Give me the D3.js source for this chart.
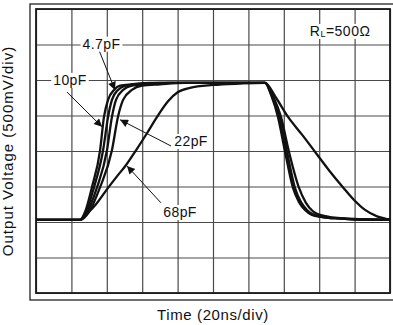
<!DOCTYPE html>
<html>
<head>
<meta charset="utf-8">
<script src="https://cdn.jsdelivr.net/npm/d3@7"></script>
<style>
  body { margin: 0; background: #fff; }
  svg { display: block; font-family: "Liberation Sans", Arial, sans-serif; }
</style>
</head>
<body>
<svg id="chart" width="393" height="325"></svg>
<script>
// time in ns (20ns/div), output in V (500mV/div)
const timeTicks = d3.range(0, 201, 20);
const voltTicks = d3.range(-1, 3.01, 0.5);
const lowLevel = 0.03;

const loads = ['0pF', '4.7pF', '10pF', '22pF', '68pF'];

const riseA = [[24.9, 0.03], [27.7, 0.14], [31.6, 0.49], [36.2, 1.01], [38.4, 1.48], [40.7, 1.72], [44.1, 1.86], [47.5, 1.92], [54.2, 1.94], [64.4, 1.96]];
const riseB = [[24.9, 0.03], [28.2, 0.14], [32.8, 0.49], [37.9, 1.01], [40.7, 1.48], [42.9, 1.72], [46.3, 1.86], [50.8, 1.92], [58.8, 1.94], [70.1, 1.96]];
const riseC = [[24.9, 0.03], [28.8, 0.14], [34.5, 0.49], [40.1, 1.01], [42.9, 1.48], [45.2, 1.72], [49.2, 1.86], [54.2, 1.92], [63.3, 1.94], [75.7, 1.96]];
const riseD = [[24.9, 0.03], [29.9, 0.14], [36.2, 0.49], [42.9, 1.01], [46.3, 1.48], [49.2, 1.72], [54.2, 1.86], [59.9, 1.92], [70.1, 1.94], [84.2, 1.96]];
const riseE = [[24.9, 0.03], [29.4, 0.13], [33.9, 0.25], [40.7, 0.48], [46.3, 0.66], [50.8, 0.80], [56.5, 1.01], [62.7, 1.25], [68.4, 1.48], [74.6, 1.70], [80.2, 1.83], [87.0, 1.89], [100, 1.93], [115.3, 1.95]];

const fallA = [[129.4, 1.96], [132.8, 1.79], [136.7, 1.48], [140.7, 0.99], [145.2, 0.48], [148.6, 0.28], [152.0, 0.17], [155.9, 0.10], [161.6, 0.07], [171.8, 0.05], [183.1, 0.035], [200, 0.03]];
const fallB = [[129.4, 1.96], [133.1, 1.79], [137.3, 1.48], [141.2, 0.99], [145.8, 0.48], [149.2, 0.28], [152.5, 0.17], [156.5, 0.10], [162.1, 0.07], [171.8, 0.05], [183.1, 0.035], [200, 0.03]];
const fallC = [[129.4, 1.96], [133.3, 1.79], [137.9, 1.48], [141.8, 0.99], [146.3, 0.48], [149.7, 0.28], [153.1, 0.17], [157.1, 0.10], [162.7, 0.07], [171.8, 0.05], [183.1, 0.035], [200, 0.03]];
const fallD = [[129.4, 1.96], [133.9, 1.77], [138.4, 1.48], [142.9, 0.99], [148.6, 0.48], [152.5, 0.27], [156.5, 0.15], [160.5, 0.10], [166.1, 0.07], [183.1, 0.04], [200, 0.03]];
const fallE = [[129.4, 1.96], [135.6, 1.75], [142.4, 1.48], [150.3, 1.23], [157.6, 0.99], [165.5, 0.73], [173.4, 0.49], [179.7, 0.31], [185.9, 0.17], [192.7, 0.08], [200, 0.035]];

const rises = [riseA, riseB, riseC, riseD, riseE];
const falls = [fallA, fallB, fallC, fallD, fallE];

// labels: text anchor point and arrow [from, tip], in data units
const notes = [
  {text: '4.7pF', at: [37.0, 2.51], from: [35.6, 2.42], tip: [44.6, 1.86]},
  {text: '10pF', at: [19.2, 2.0], from: [17.5, 1.83], tip: [37.3, 1.34]},
  {text: '22pF', at: [87.6, 1.14], from: [76.3, 1.07], tip: [47.5, 1.44]},
  {text: '68pF', at: [81.4, 0.14], from: [70.6, 0.27], tip: [51.4, 0.79]},
];

const margin = {left: 36, top: 9, right: 3, bottom: 32};
const width = 393 - margin.left - margin.right;
const height = 325 - margin.top - margin.bottom;

const svg = d3.select('#chart');
const x = d3.scaleLinear().domain([0, 200]).range([0, width]);
const y = d3.scaleLinear().domain([-1, 3]).range([height, 0]);

// outer frame (runs off the right edge)
svg.append('rect')
  .attr('x', 30).attr('y', 4).attr('width', 400).attr('height', 296)
  .attr('fill', 'none').attr('stroke', '#222').attr('stroke-width', 1.3);

const g = svg.append('g').attr('transform', `translate(${margin.left},${margin.top})`);

/* GRID */
const gridX = g.append('g')
  .call(d3.axisBottom(x).tickValues(timeTicks).tickSize(height).tickFormat(''));
const gridY = g.append('g')
  .call(d3.axisLeft(y).tickValues(voltTicks).tickSize(-width).tickFormat(''));
[gridX, gridY].forEach(a => {
  a.select('.domain').remove();
  a.selectAll('line').attr('stroke', '#4a4a4a').attr('stroke-width', 1.2);
});
g.append('rect').attr('width', width).attr('height', height)
  .attr('fill', 'none').attr('stroke', '#1a1a1a').attr('stroke-width', 1.8);

/* CURVES */
const line = d3.line().x(d => x(d[0])).y(d => y(d[1])).curve(d3.curveMonotoneX);
const series = loads.map((name, i) => ({
  name,
  points: [[0, lowLevel], ...rises[i], ...falls[i]],
}));
g.selectAll('path.trace').data(series).enter().append('path')
  .attr('class', 'trace')
  .attr('d', d => line(d.points))
  .attr('fill', 'none').attr('stroke', '#111').attr('stroke-width', 2.3)
  .attr('stroke-linejoin', 'round');

/* LABELS */
svg.append('defs').append('marker')
  .attr('id', 'head').attr('viewBox', '0 0 10 10')
  .attr('refX', 10).attr('refY', 5)
  .attr('markerWidth', 10).attr('markerHeight', 8)
  .attr('markerUnits', 'userSpaceOnUse').attr('orient', 'auto')
  .append('path').attr('d', 'M0,0L10,5L0,10Z').attr('fill', '#111');

const noteG = g.selectAll('g.note').data(notes).enter().append('g').attr('class', 'note');
noteG.append('line')
  .attr('x1', d => x(d.from[0])).attr('y1', d => y(d.from[1]))
  .attr('x2', d => x(d.tip[0])).attr('y2', d => y(d.tip[1]))
  .attr('stroke', '#111').attr('stroke-width', 1).attr('marker-end', 'url(#head)');
const noteBg = noteG.append('rect').attr('fill', '#fff');
const noteText = noteG.append('text')
  .attr('x', d => x(d.at[0])).attr('y', d => y(d.at[1]))
  .attr('dy', '0.35em').attr('text-anchor', 'middle')
  .style('font-size', '14px').style('letter-spacing', '0.4px').attr('fill', '#111')
  .text(d => d.text);
noteText.each(function (d, i) {
  const b = this.getBBox();
  d3.select(noteBg.nodes()[i])
    .attr('x', b.x - 2).attr('y', b.y + 1).attr('width', b.width + 4).attr('height', b.height - 1);
});

// load resistor label
const rl = g.append('g');
const rlBg = rl.append('rect').attr('fill', '#fff');
const rlText = rl.append('text')
  .attr('x', x(171.8)).attr('y', y(2.69)).attr('dy', '0.35em')
  .attr('text-anchor', 'middle').style('font-size', '14px').style('letter-spacing', '0.5px')
  .attr('fill', '#111');
rlText.append('tspan').text('R');
rlText.append('tspan').style('font-size', '9px').attr('dy', 1).text('L');
rlText.append('tspan').attr('dy', -1).text('=500Ω');
const rb = rlText.node().getBBox();
rlBg.attr('x', rb.x - 2).attr('y', rb.y + 1).attr('width', rb.width + 4).attr('height', rb.height - 1);

/* AXIS TITLES */
svg.append('text')
  .attr('x', margin.left + width / 2).attr('y', 320)
  .attr('text-anchor', 'middle').style('font-size', '15px').style('letter-spacing', '0.6px')
  .attr('fill', '#111')
  .text('Time (20ns/div)');
svg.append('text')
  .attr('transform', `translate(12.5,${margin.top + height / 2}) rotate(-90)`)
  .attr('text-anchor', 'middle').style('font-size', '15px').style('letter-spacing', '1px')
  .attr('fill', '#111')
  .text('Output Voltage (500mV/div)');
</script>
</body>
</html>
